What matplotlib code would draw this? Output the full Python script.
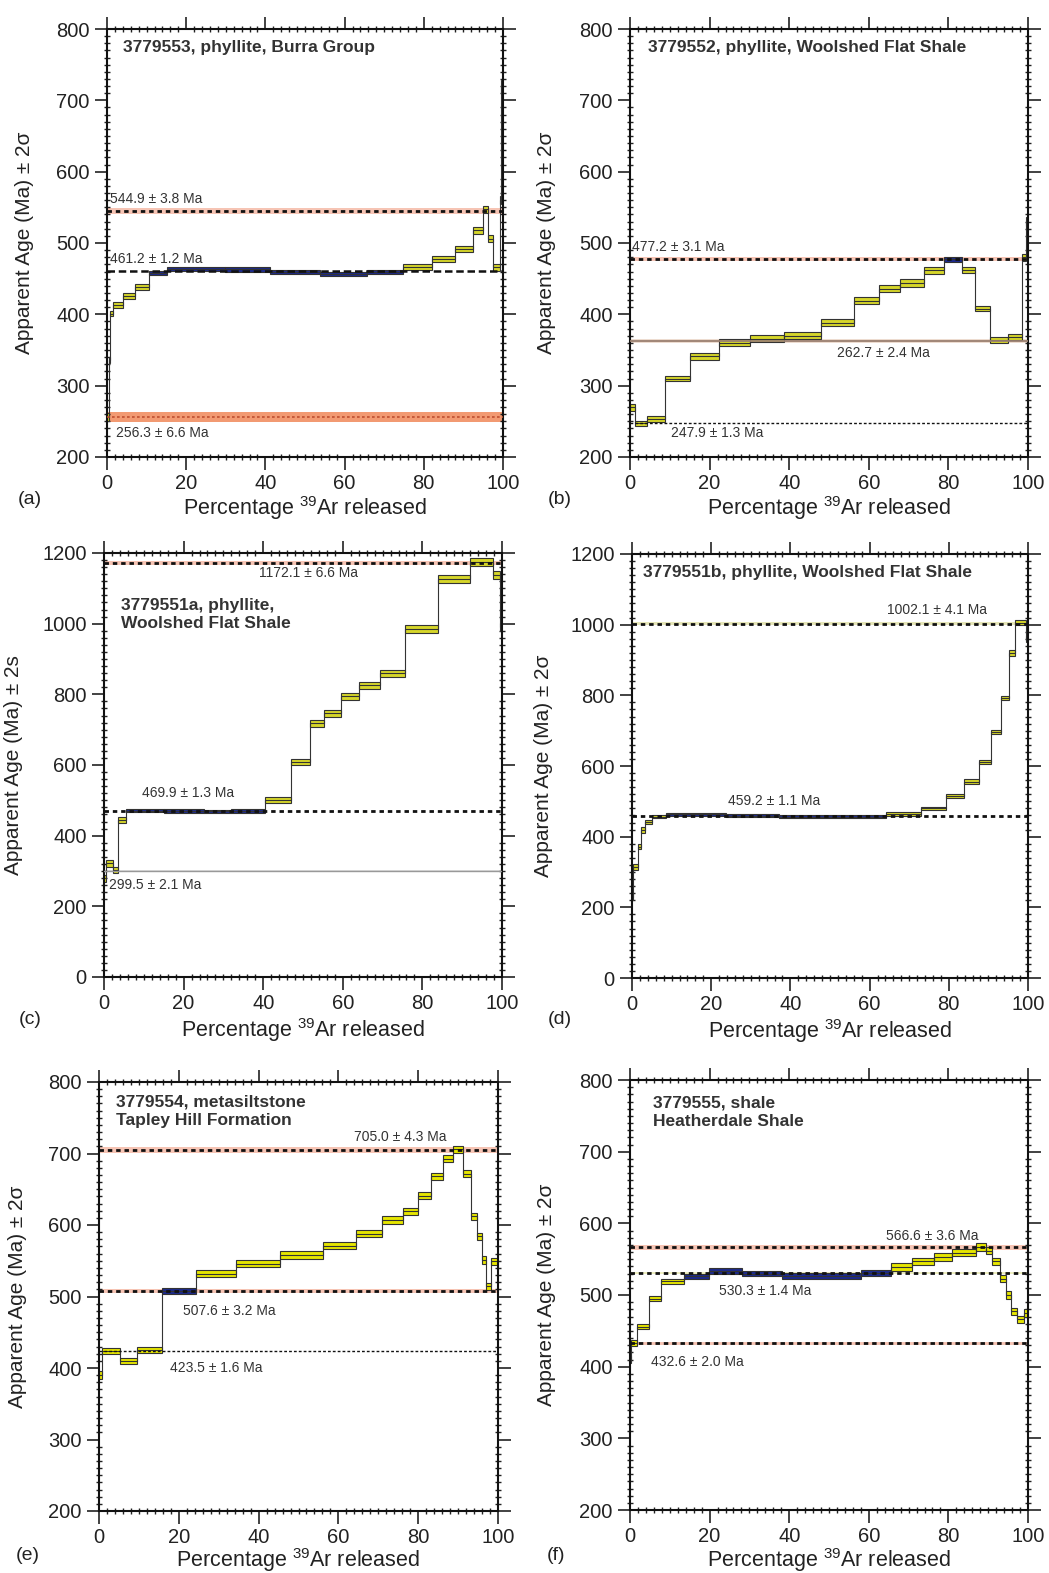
import numpy as np
import matplotlib
matplotlib.use("Agg")
import matplotlib.pyplot as plt
from matplotlib.ticker import MultipleLocator

plt.rcParams['font.family'] = ['Liberation Sans', 'DejaVu Sans']
plt.rcParams['mathtext.fontset'] = 'custom'
plt.rcParams['mathtext.rm'] = 'Liberation Sans'
plt.rcParams['mathtext.it'] = 'Liberation Sans:italic'

# ---------------- data ----------------
# (a) 3779553
a_edges = [0, 0.4, 0.8, 1.6, 4.1, 7.1, 10.7, 15.1, 29.8, 41.2, 53.8, 65.6, 74.8, 82.0, 87.9, 92.5, 95.0, 96.3, 97.5, 99.2, 99.6, 100]
a_ages = [256, 336, 401, 413, 426, 438, 458, 464, 463, 459, 457, 459, 466, 478, 492, 518, 547, 506, 466, 560, 720]
a_err = [5, 4, 4, 4, 4, 4, 3, 3, 3, 3, 3, 3, 4, 4, 4, 5, 5, 5, 5, 6, 8]
a_plateau = [6, 11]
a_ref_ages = [544.9, 461.2, 256.3]
a_ref_err = [3.8, 1.2, 6.6]
a_ref_text = ["544.9 ± 3.8 Ma", "461.2 ± 1.2 Ma", "256.3 ± 6.6 Ma"]

# (b) 3779552
b_edges = [0, 1.3, 4.3, 8.9, 15.2, 22.3, 30.2, 38.6, 48.1, 56.4, 62.5, 67.9, 73.8, 78.8, 83.4, 86.8, 90.5, 95.1, 98.5, 99.5, 100]
b_ages = [270, 247, 253, 310, 341, 360, 366, 370, 388, 419, 436, 444, 462, 477, 462, 408, 364, 368, 480, 530]
b_err = [5, 4, 4, 4, 5, 5, 5, 5, 5, 5, 5, 5, 5, 3, 4, 4, 4, 4, 5, 6]
b_plateau = [13, 13]
b_ref_ages = [477.2, 362.7, 247.9]
b_ref_err = [3.1, 2.4, 1.3]
b_ref_text = ["477.2 ± 3.1 Ma", "262.7 ± 2.4 Ma", "247.9 ± 1.3 Ma"]

# (c) 3779551a
c_edges = [0, 0.6, 2.3, 3.5, 5.6, 15, 25, 32, 40.4, 46.9, 51.7, 55.4, 59.5, 64, 69.3, 75.7, 83.9, 91.9, 97.7, 99.4, 100]
c_ages = [280, 322, 303, 444, 471, 470, 469, 470, 501, 608, 718, 746, 795, 826, 859, 985, 1126, 1175, 1138, 990]
c_err = [10, 10, 8, 8, 5, 5, 5, 5, 8, 8, 10, 10, 10, 10, 10, 12, 12, 12, 12, 12]
c_plateau = [4, 7]
c_ref_ages = [1172.1, 469.9, 299.5]
c_ref_err = [6.6, 1.3, 2.1]
c_ref_text = ["1172.1 ± 6.6 Ma", "469.9 ± 1.3 Ma", "299.5 ± 2.1 Ma"]

# (d) 3779551b
d_edges = [0, 0.3, 1.4, 2.3, 3.4, 5.1, 8.6, 23.7, 37.2, 64.1, 73, 79.3, 83.9, 87.7, 90.7, 93.2, 95.3, 96.8, 99.5, 100]
d_ages = [230, 315, 372, 419, 442, 457, 463, 459, 457, 464, 480, 515, 556, 612, 697, 792, 919, 1006, 960]
d_err = [8, 8, 8, 8, 6, 5, 4, 4, 4, 5, 5, 6, 6, 6, 6, 6, 8, 8, 8]
d_plateau = [6, 8]
d_ref_ages = [1002.1, 459.2]
d_ref_err = [4.1, 1.1]
d_ref_text = ["1002.1 ± 4.1 Ma", "459.2 ± 1.1 Ma"]

# (e) 3779554
e_edges = [0, 0.8, 5.2, 9.4, 15.9, 24.4, 34.3, 45.3, 56.1, 64.5, 71, 76.2, 80, 83.3, 86.2, 88.7, 91.2, 93.3, 94.7, 96.1, 97.1, 98.3, 100]
e_ages = [390, 424, 410, 425, 508, 532, 546, 558, 571, 588, 607, 619, 641, 668, 693, 706, 672, 612, 584, 551, 514, 549]
e_err = [6, 4, 4, 4, 4, 5, 5, 5, 5, 5, 5, 5, 5, 5, 5, 5, 5, 5, 5, 5, 5, 5]
e_plateau = [4, 4]
e_ref_ages = [705.0, 507.6, 423.5]
e_ref_err = [4.3, 3.2, 1.6]
e_ref_text = ["705.0 ± 4.3 Ma", "507.6 ± 3.2 Ma", "423.5 ± 1.6 Ma"]

# (f) 3779555
f_edges = [0, 0.3, 1.8, 4.8, 7.9, 13.6, 19.8, 28.2, 38.3, 58, 65.5, 70.9, 76.4, 81, 86.9, 89.4, 91, 93, 94.4, 95.7, 97.2, 99, 100]
f_ages = [410, 433, 456, 495, 519, 526, 534, 530, 527, 531, 539, 547, 553, 559, 567, 562, 547, 523, 500, 477, 466, 475]
f_err = [5, 4, 4, 4, 4, 4, 4, 4, 4, 4, 5, 5, 5, 5, 5, 5, 5, 5, 5, 5, 5, 5]
f_plateau = [5, 9]
f_ref_ages = [566.6, 530.3, 432.6]
f_ref_err = [3.6, 1.4, 2.0]
f_ref_text = ["566.6 ± 3.6 Ma", "530.3 ± 1.4 Ma", "432.6 ± 2.0 Ma"]

titles = ["3779553, phyllite, Burra Group",
          "3779552, phyllite, Woolshed Flat Shale",
          "3779551a, phyllite,\nWoolshed Flat Shale",
          "3779551b, phyllite, Woolshed Flat Shale",
          "3779554, metasiltstone\nTapley Hill Formation",
          "3779555, shale\nHeatherdale Shale"]
panel_letters = ["(a)", "(b)", "(c)", "(d)", "(e)", "(f)"]
ylabels = ["Apparent Age (Ma) ± 2σ", "Apparent Age (Ma) ± 2σ", "Apparent Age (Ma) ± 2s",
           "Apparent Age (Ma) ± 2σ", "Apparent Age (Ma) ± 2σ", "Apparent Age (Ma) ± 2σ"]

# ---------------- styling ----------------
YELLOW = '#d6d62a'
YELLOW_E = '#e6e600'
BLUE = '#1c2a8c'
RED_BAND = '#f6c4b4'
ORANGE_BAND = '#f29a72'
W, H = 1049, 1573

fig = plt.figure(figsize=(W / 100, H / 100), dpi=100)


def axes_px(l, r, t, b):
    return fig.add_axes([l / W, 1 - b / H, (r - l) / W, (b - t) / H])


def style(ax, ylim, ymaj, ymin, ylabel, ylab_dx, xlab_dy):
    ax.set_xlim(0, 100)
    ax.set_ylim(*ylim)
    ax.xaxis.set_major_locator(MultipleLocator(20))
    ax.xaxis.set_minor_locator(MultipleLocator(2))
    ax.yaxis.set_major_locator(MultipleLocator(ymaj))
    ax.yaxis.set_minor_locator(MultipleLocator(ymin))
    ax.tick_params(which='major', direction='out', length=9, width=1.2,
                   top=True, right=True, labelsize=14.5, colors='#222')
    ax.tick_params(which='minor', direction='inout', length=5, width=1.0,
                   top=True, right=True, colors='#222')
    for s in ax.spines.values():
        s.set_linewidth(1.5)
        s.set_color('#111')
    ax.set_xlabel(r'Percentage $^{39}$Ar released', fontsize=15.5, color='#222')
    ax.set_ylabel(ylabel, fontsize=15, color='#222')
    bb = ax.get_position()
    wpx = bb.width * W
    hpx = bb.height * H
    ax.xaxis.set_label_coords(0.5, -xlab_dy / hpx)
    ax.yaxis.set_label_coords(-ylab_dx / wpx, 0.5)


def spectrum(ax, edges, ages, err, plateau, ycol):
    edges = np.asarray(edges, float)
    ages = np.asarray(ages, float)
    err = np.asarray(err, float)
    idx = np.arange(len(ages))
    cols = [BLUE if plateau[0] <= i <= plateau[1] else ycol for i in idx]
    ax.bar(edges[:-1], 2 * err, width=np.diff(edges), bottom=ages - err,
           align='edge', color=cols, edgecolor='#333', linewidth=0.8, zorder=2)
    ax.stairs(ages, edges, baseline=None, color='#333', lw=0.8, zorder=2.5)


def refline(ax, val, err, band=None, ls=(0, (1.6, 1.4)), lw=2.0, color='#111'):
    if band is not None:
        ax.axhspan(val - err, val + err, color=band, lw=0, zorder=1)
    ax.axhline(val, color=color, ls=ls, lw=lw, zorder=3)


def note(ax, x, y, s, ha='left'):
    ax.text(x, y, s, fontsize=10, color='#333', ha=ha, va='center', zorder=4)


def title(ax, x, y, s):
    ax.text(x, y, s, transform=ax.transAxes, fontsize=12.5, fontweight='bold',
            color='#333', ha='left', va='top', linespacing=1.3)


def letter(x, y, s):
    fig.text(x / W, 1 - y / H, s, fontsize=14, color='#222', ha='center', va='center')


# (a)
ax = axes_px(107, 503, 29, 457)
spectrum(ax, a_edges, a_ages, a_err, a_plateau, YELLOW)
refline(ax, a_ref_ages[0], a_ref_err[0], RED_BAND)
refline(ax, a_ref_ages[1], a_ref_err[1], None, ls=(0, (3, 1.5)), lw=1.8)
refline(ax, a_ref_ages[2], a_ref_err[2], ORANGE_BAND, lw=1.2, color='#c05030')
note(ax, 0.8, 561, a_ref_text[0])
note(ax, 0.8, 478, a_ref_text[1])
note(ax, 2.2, 233, a_ref_text[2])
style(ax, (200, 800), 100, 10, ylabels[0], 73, 37)
title(ax, 0.04, 0.975, titles[0])
letter(30, 500, panel_letters[0])

# (b)
ax = axes_px(630, 1028, 29, 457)
spectrum(ax, b_edges, b_ages, b_err, b_plateau, YELLOW)
refline(ax, b_ref_ages[0], b_ref_err[0], RED_BAND)
refline(ax, b_ref_ages[1], b_ref_err[1], '#eddcd0', ls='-', lw=1.3, color='#9a8070')
refline(ax, b_ref_ages[2], b_ref_err[2], None, ls=(0, (2, 1.5)), lw=1.0)
note(ax, 0.4, 495, b_ref_text[0])
note(ax, 63.7, 346, b_ref_text[1], ha='center')
note(ax, 21.8, 234, b_ref_text[2], ha='center')
style(ax, (200, 800), 100, 10, ylabels[1], 74, 37)
title(ax, 0.045, 0.975, titles[1])
letter(560, 500, panel_letters[1])

# (c)
ax = axes_px(104, 502, 553, 977)
spectrum(ax, c_edges, c_ages, c_err, c_plateau, YELLOW)
refline(ax, c_ref_ages[0], c_ref_err[0], RED_BAND)
refline(ax, c_ref_ages[1], c_ref_err[1], None)
refline(ax, c_ref_ages[2], c_ref_err[2], '#dddddd', ls='-', lw=1.0, color='#999999')
note(ax, 51.5, 1143, c_ref_text[0], ha='center')
note(ax, 21, 520, c_ref_text[1], ha='center')
note(ax, 1.2, 260, c_ref_text[2])
style(ax, (0, 1200), 200, 20, ylabels[2], 81, 39)
title(ax, 0.042, 0.895, titles[2])
letter(30, 1020, panel_letters[2])

# (d)
ax = axes_px(632, 1028, 554, 978)
spectrum(ax, d_edges, d_ages, d_err, d_plateau, YELLOW)
refline(ax, d_ref_ages[0], d_ref_err[0], '#e6e6b8')
refline(ax, d_ref_ages[1], d_ref_err[1], None)
note(ax, 77, 1042, d_ref_text[0], ha='center')
note(ax, 36, 502, d_ref_text[1], ha='center')
style(ax, (0, 1200), 200, 20, ylabels[3], 79, 39)
title(ax, 0.029, 0.975, titles[3])
letter(560, 1020, panel_letters[3])

# (e)
ax = axes_px(99, 498, 1082, 1511)
spectrum(ax, e_edges, e_ages, e_err, e_plateau, YELLOW_E)
refline(ax, e_ref_ages[0], e_ref_err[0], RED_BAND)
refline(ax, e_ref_ages[1], e_ref_err[1], RED_BAND)
refline(ax, e_ref_ages[2], e_ref_err[2], None, ls=(0, (2, 1.5)), lw=1.0)
note(ax, 75.5, 723, e_ref_text[0], ha='center')
note(ax, 32.6, 480, e_ref_text[1], ha='center')
note(ax, 29.4, 400, e_ref_text[2], ha='center')
style(ax, (200, 800), 100, 10, ylabels[4], 72, 35)
title(ax, 0.043, 0.97, titles[4])
letter(28, 1556, panel_letters[4])

# (f)
ax = axes_px(630, 1028, 1080, 1510)
spectrum(ax, f_edges, f_ages, f_err, f_plateau, YELLOW_E)
refline(ax, f_ref_ages[0], f_ref_err[0], RED_BAND)
refline(ax, f_ref_ages[1], f_ref_err[1], '#eeeec0')
refline(ax, f_ref_ages[2], f_ref_err[2], RED_BAND)
note(ax, 76, 582, f_ref_text[0], ha='center')
note(ax, 34, 506, f_ref_text[1], ha='center')
note(ax, 17, 407, f_ref_text[2], ha='center')
style(ax, (200, 800), 100, 10, ylabels[5], 74, 36)
title(ax, 0.059, 0.965, titles[5])
letter(556, 1556, panel_letters[5])

fig.savefig('out.png', dpi=100, facecolor='white')
